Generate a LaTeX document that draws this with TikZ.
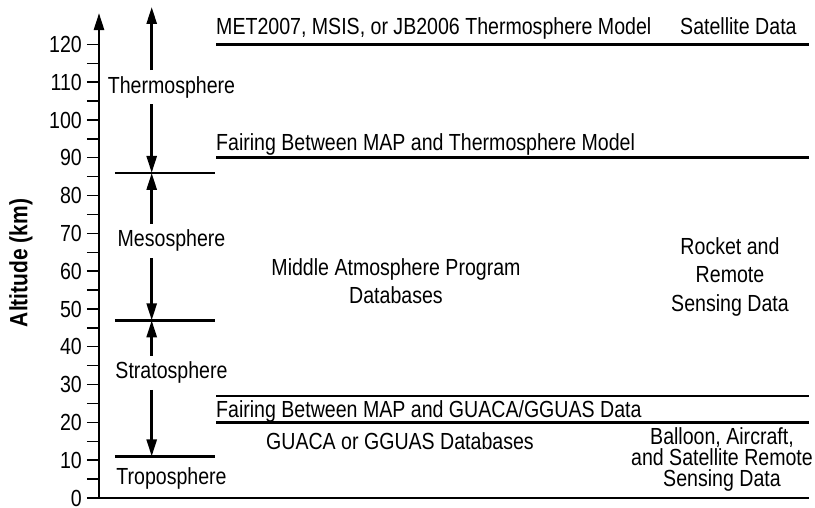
\documentclass[tikz,border=0pt]{standalone}
\usepackage{fontspec}
\setmainfont{Liberation Sans}[FakeStretch=0.84]
\usetikzlibrary{arrows.meta}

\begin{document}
\begin{tikzpicture}[x=1pt, y=3.78pt,
    txt/.style={font=\fontsize{23.3}{28.3}\selectfont, inner sep=0pt},
    lyr/.style={txt, inner sep=6pt},
    bar/.style={line width=2.6pt},
    tip/.style={-{Triangle[length=17pt,width=10pt]}, line width=2.6pt}]
  \useasboundingbox (-99,-2.646) rectangle (716,131.746);

  % altitude axis
  \coordinate (o) at (0,0);
  \coordinate (top) at (0,128.3);
  \draw[tip] (o) -- (top);
  \foreach \k in {0,5,...,120}
    \draw[line width=1.4pt] (-12,\k) -- (0,\k);
  \foreach \k in {0,10,...,120}
    \node[txt, anchor=east] (t\k) at (-17,\k) {\k};
  \node[txt, font=\fontsize{25}{28}\selectfont\bfseries, rotate=90] (alt) at (-78,62.2) {Altitude (km)};

  % layer boundaries
  \draw[bar] (16,86) -- (116,86);
  \draw[bar] (16,47) -- (116,47);
  \draw[bar] (16,11) -- (116,11);
  \foreach \k in {120,90,27,20}
    \draw[bar] (117,\k) -- (710,\k);
  \draw[bar] (o) -- (710,0);

  % layers
  \coordinate (col) at (52.7,0);
  \coordinate (thermotop) at (52.7,129.9);
  \coordinate (mesopause) at (52.7,86);
  \coordinate (stratopause) at (52.7,47);
  \coordinate (tropopause) at (52.7,11);
  \node[lyr] (thermo) at (72.5,108.7) {Thermosphere};
  \node[lyr] (meso) at (72.5,68.0) {Mesosphere};
  \node[lyr] (strato) at (72.5,33.1) {Stratosphere};
  \node[lyr] (tropo) at (72.5,5.1) {Troposphere};
  \draw[tip] (thermo.north -| col) -- (thermotop);
  \draw[tip] (thermo.south -| col) -- (mesopause);
  \draw[tip] (meso.north -| col) -- (mesopause);
  \draw[tip] (meso.south -| col) -- (stratopause);
  \draw[tip] (strato.north -| col) -- (stratopause);
  \draw[tip] (strato.south -| col) -- (tropopause);

  % models and data
  \node[txt, anchor=base west] (met) at (117,122.6) {MET2007, MSIS, or JB2006 Thermosphere Model};
  \node[txt, anchor=base west] (sat) at (581,122.6) {Satellite Data};
  \node[txt, anchor=base west] (fairtop) at (117,91.8) {Fairing Between MAP and Thermosphere Model};
  \node[txt, align=center] (map) at (297,57.4) {Middle Atmosphere Program\\Databases};
  \node[txt, align=center] (rocket) at (631,58.5) {Rocket and\\Remote\\Sensing Data};
  \node[txt, anchor=base west] (fairlow) at (117,21.3) {Fairing Between MAP and GUACA/GGUAS Data};
  \node[txt, anchor=base west] (guaca) at (167,12.7) {GUACA or GGUAS Databases};
  \node[txt, align=center, font=\fontsize{23.3}{21}\selectfont] (balloon) at (623,10.1) {Balloon, Aircraft,\\and Satellite Remote\\Sensing Data};
\end{tikzpicture}
\end{document}
